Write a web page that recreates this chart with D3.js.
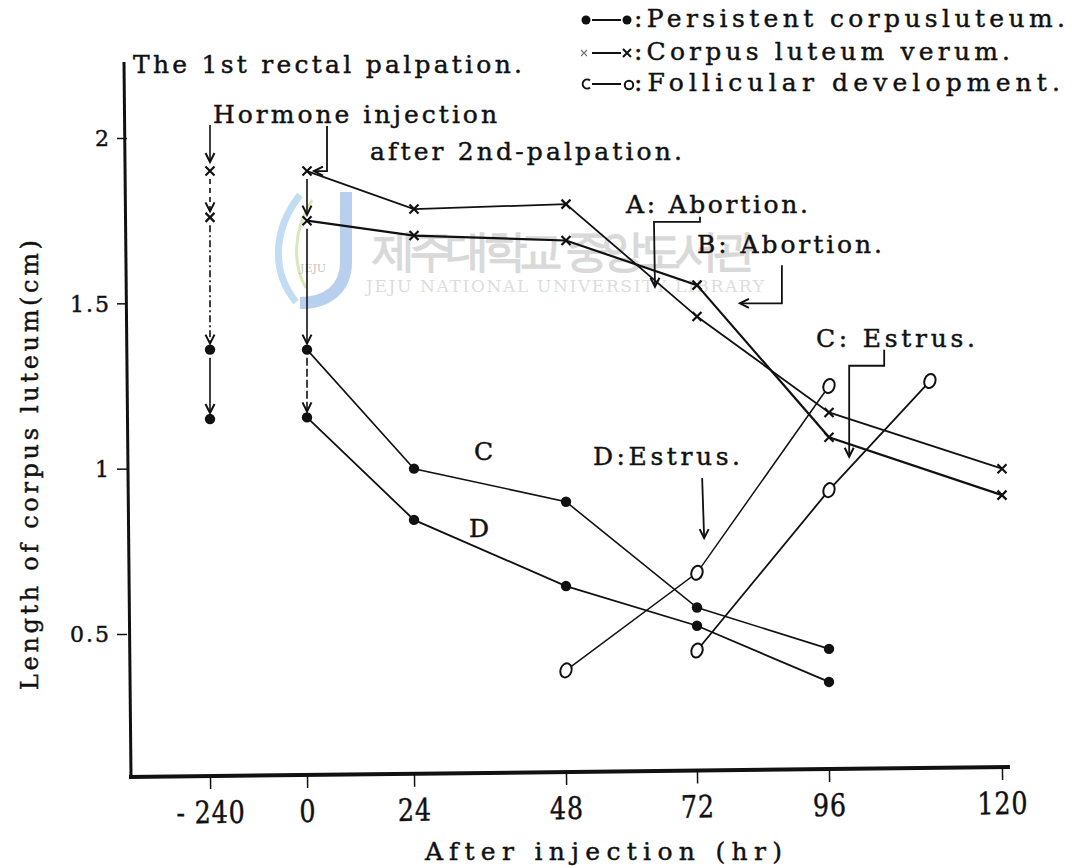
<!DOCTYPE html>
<html>
<head>
<meta charset="utf-8">
<title>Length of corpus luteum after injection</title>
<script src="https://cdn.jsdelivr.net/npm/d3@7"></script>
<style>
  body { margin: 0; background: #fff; }
  svg text { font-family: "DejaVu Serif", serif; fill: #111; stroke: #111; stroke-width: 0.45px; }
  svg .watermark text { stroke: none; }
</style>
</head>
<body>
<svg id="chart" width="1072" height="868"></svg>
<script>
// x ticks (hours after injection) and their printed labels
const hourTicks = [-240, 0, 24, 48, 72, 96, 120];
const hourLabels = ["- 240", "0", "24", "48", "72", "96", "120"];
const lengthTicks = [0.5, 1, 1.5, 2];

// corpus luteum verum (x), cases A and B  [hour, cm]
const verumA = [[0, 1.90], [24, 1.785], [48, 1.80], [72, 1.46], [96, 1.17], [120, 1.00]];
const verumB = [[0, 1.75], [24, 1.705], [48, 1.69], [72, 1.555], [96, 1.095], [120, 0.92]];
// persistent corpus luteum (dots), cases C and D
const persistC = [[0, 1.36], [24, 1.00], [48, 0.90], [72, 0.58], [96, 0.455]];
const persistD = [[0, 1.155], [24, 0.845], [48, 0.645], [72, 0.525], [96, 0.355]];
// follicular development (o)
const follicleD = [[48, 0.39], [72, 0.685], [96, 1.25]];
const follicleC = [[72, 0.45], [96, 0.935], [110, 1.265]];
// 1st rectal palpation, -240 hr
const firstVerum = [1.90, 1.76];
const firstPersist = [1.36, 1.15];

const svg = d3.select("#chart");
svg.append("rect").attr("width", 1072).attr("height", 868).attr("fill", "#fff");

const x = d3.scaleLinear().domain(hourTicks).range([210, 307, 414, 566, 697, 829, 1002]);
const y = d3.scaleLinear().domain([0.5, 2]).range([634, 138]);

// library watermark of the scan
const wm = svg.append("g").attr("class", "watermark").attr("opacity", 0.7);
wm.append("path").attr("d", "M300,195 C274,228 270,270 296,302")
  .attr("fill", "none").attr("stroke", "#a9cfee").attr("stroke-width", 7);
wm.append("path").attr("d", "M312,200 C292,232 293,266 306,288")
  .attr("fill", "none").attr("stroke", "#c9df9c").attr("stroke-width", 3);
wm.append("path").attr("d", "M346,192 L346,262 C346,290 326,303 300,303")
  .attr("fill", "none").attr("stroke", "#9bbde6").attr("stroke-width", 12);
wm.append("text").attr("x", 300).attr("y", 272).attr("font-family", "Noto Sans")
  .attr("font-size", 11).style("fill", "#aaa").text("JEJU");
wm.append("text").attr("x", 372).attr("y", 266).attr("font-family", "Noto Sans CJK KR")
  .attr("font-size", 44).attr("font-weight", "bold").attr("textLength", 384)
  .style("fill", "#c9c9c9").text("제주대학교 중앙도서관");
wm.append("text").attr("x", 366).attr("y", 292).attr("font-family", "Noto Sans")
  .attr("font-size", 17).attr("textLength", 398).style("fill", "#d0d0d0")
  .text("JEJU NATIONAL UNIVERSITY LIBRARY");

// y axis
svg.append("line").attr("x1", 124).attr("y1", 62).attr("x2", 131).attr("y2", 778)
  .attr("stroke", "#111").attr("stroke-width", 3);
const yAxis = svg.append("g").attr("transform", "translate(127,0)")
  .call(d3.axisLeft(y).tickValues(lengthTicks).tickSize(10).tickPadding(6).tickFormat(d3.format("")));
yAxis.select(".domain").remove();
yAxis.selectAll("line").attr("stroke", "#111").attr("stroke-width", 1.5);
yAxis.selectAll("text").attr("font-family", "DejaVu Serif").attr("font-size", 22)
  .attr("letter-spacing", 2).attr("dy", "0.35em");

// x axis, drawn along the slightly rising baseline of the original
const xAxis = svg.append("g").attr("transform", "rotate(-0.65 129 777) translate(0,777)");
xAxis.append("line").attr("x1", 129).attr("x2", 1010).attr("stroke", "#111").attr("stroke-width", 4);
xAxis.call(d3.axisBottom(x).tickValues(hourTicks).tickSize(13).tickPadding(12)
  .tickFormat((d, i) => hourLabels[i]));
xAxis.select(".domain").remove();
xAxis.selectAll(".tick line").attr("stroke", "#111").attr("stroke-width", 1.5);
xAxis.selectAll(".tick text").attr("font-family", "Liberation Serif").attr("font-size", 31)
  .attr("transform", "scale(0.82,1)").attr("letter-spacing", 1);

svg.append("text").attr("x", 425).attr("y", 860).attr("font-size", 25)
  .attr("textLength", 357).text("After injection (hr)");
svg.append("text").attr("transform", "translate(38,690) rotate(-90)").attr("font-size", 24)
  .attr("textLength", 450).text("Length of corpus luteum(cm)");

// helpers
function arrowHead(g, tx, ty, dir) {
  const s = 9, w = 4.5;
  const d = dir === "left"
    ? `M${tx + s},${ty - w} L${tx},${ty} L${tx + s},${ty + w}`
    : `M${tx - w},${ty - s} L${tx},${ty} L${tx + w},${ty - s}`;
  g.append("path").attr("d", d).attr("fill", "none").attr("stroke", "#111").attr("stroke-width", 2);
}
function drawMark(g, kind, px, py) {
  if (kind === "dot") {
    g.append("circle").attr("cx", px).attr("cy", py).attr("r", 5.2).attr("fill", "#111");
  } else if (kind === "cross") {
    g.append("path").attr("d", `M${px - 4.5},${py - 4.5} L${px + 4.5},${py + 4.5} M${px - 4.5},${py + 4.5} L${px + 4.5},${py - 4.5}`)
      .attr("stroke", "#111").attr("stroke-width", 2.2);
  } else {
    g.append("ellipse").attr("cx", px).attr("cy", py).attr("rx", 5.5).attr("ry", 7.2)
      .attr("transform", `rotate(20 ${px} ${py})`)
      .attr("fill", "#fff").attr("stroke", "#111").attr("stroke-width", 2);
  }
}

// palpation columns: vertical arrows between successive measurements
const plot = svg.append("g");
const columns = [
  { hour: -240, values: [...firstVerum, ...firstPersist], dashes: ["5,4", "7,3,2,3", null] },
  { hour: 0, values: [verumA[0][1], verumB[0][1], persistC[0][1], persistD[0][1]], dashes: [null, null, "8,3"] }
];
columns.forEach(c => {
  const px = x(c.hour);
  for (let i = 0; i < c.values.length - 1; i++) {
    const y0 = y(c.values[i]) + 8, y1 = y(c.values[i + 1]) - 6;
    plot.append("line").attr("x1", px).attr("x2", px).attr("y1", y0).attr("y2", y1)
      .attr("stroke", "#111").attr("stroke-width", 1.6)
      .attr("stroke-dasharray", c.dashes[i]);
    arrowHead(plot, px, y1, "down");
  }
});
// arrow of the 1st palpation
plot.append("line").attr("x1", x(-240)).attr("x2", x(-240)).attr("y1", 125).attr("y2", y(firstVerum[0]) - 9)
  .attr("stroke", "#111").attr("stroke-width", 1.6);
arrowHead(plot, x(-240), y(firstVerum[0]) - 9, "down");

// series
const line = d3.line().x(d => x(d[0])).y(d => y(d[1]));
const series = [
  { data: verumA, mark: "cross", w: 1.8 },
  { data: verumB, mark: "cross", w: 2.2 },
  { data: persistC, mark: "dot", w: 1.6 },
  { data: persistD, mark: "dot", w: 1.8 },
  { data: follicleD, mark: "ring", w: 1.5 },
  { data: follicleC, mark: "ring", w: 1.8 }
];
series.forEach(s => {
  plot.append("path").attr("d", line(s.data)).attr("fill", "none")
    .attr("stroke", "#111").attr("stroke-width", s.w);
});
series.forEach(s => s.data.forEach(d => drawMark(plot, s.mark, x(d[0]), y(d[1]))));
firstVerum.forEach(v => drawMark(plot, "cross", x(-240), y(v)));
firstPersist.forEach(v => drawMark(plot, "dot", x(-240), y(v)));

// annotation arrows, anchored at data units, bracket drawn in pixels
const pointers = [
  { at: [0, verumA[0][1]], dir: "left", path: [[0, 0], [13, 0], [13, -45]] },
  { at: [64.3, 1.55], dir: "down", path: [[0, 0], [-1, -65], [45, -65], [45, -70]] },
  { at: [79.8, 1.50], dir: "left", path: [[0, 0], [42, 0], [42, -38]] },
  { at: [98.8, 1.036], dir: "down", path: [[0, 0], [0, -91], [35, -91], [35, -107]] },
  { at: [73.3, 0.79], dir: "down", path: [[0, 0], [-2, -60]] }
];
pointers.forEach(p => {
  const tx = x(p.at[0]) + (p.dir === "left" && p.at[0] === 0 ? 7 : 0), ty = y(p.at[1]);
  plot.append("path").attr("d", d3.line()(p.path.map(o => [tx + o[0], ty + o[1]])))
    .attr("fill", "none").attr("stroke", "#111").attr("stroke-width", 1.8);
  arrowHead(plot, tx, ty, p.dir);
});

// text notes
const notes = [
  { t: "The 1st rectal palpation.", x: 133, y: 73, w: 389 },
  { t: "Hormone injection", x: 213, y: 123, w: 284 },
  { t: "after 2nd-palpation.", x: 370, y: 160, w: 312 },
  { t: "A: Abortion.", x: 626, y: 213, w: 182 },
  { t: "B: Abortion.", x: 697, y: 253, w: 185 },
  { t: "C: Estrus.", x: 816, y: 347, w: 159 },
  { t: "D:Estrus.", x: 593, y: 465, w: 147 },
  { t: "C", x: 474, y: 460 },
  { t: "D", x: 469, y: 537 }
];
notes.forEach(n => {
  const t = svg.append("text").attr("x", n.x).attr("y", n.y).attr("font-size", 25).text(n.t);
  if (n.w) t.attr("textLength", n.w);
});

// legend
const legend = svg.append("g");
const legendRows = [
  { kind: "dot", label: ":Persistent corpusluteum.", y: 27, w: 431 },
  { kind: "cross", label: ":Corpus luteum verum.", y: 60, w: 376 },
  { kind: "ring", label: ":Follicular development.", y: 91, w: 426 }
];
legendRows.forEach(r => {
  const cy = r.y - 7;
  legend.append("line").attr("x1", 592).attr("x2", 621).attr("y1", cy).attr("y2", cy)
    .attr("stroke", "#111").attr("stroke-width", 2);
  if (r.kind === "dot") {
    legend.append("circle").attr("cx", 586).attr("cy", cy).attr("r", 4.5).attr("fill", "#111");
    legend.append("circle").attr("cx", 627).attr("cy", cy).attr("r", 4.5).attr("fill", "#111");
  } else if (r.kind === "cross") {
    legend.append("path").attr("d", `M581,${cy - 3} L587,${cy + 3} M581,${cy + 3} L587,${cy - 3}`)
      .attr("stroke", "#777").attr("stroke-width", 1.2);
    legend.append("path").attr("d", `M623,${cy - 4} L631,${cy + 4} M623,${cy + 4} L631,${cy - 4}`)
      .attr("stroke", "#111").attr("stroke-width", 2);
  } else {
    legend.append("path").attr("d", `M590,${cy - 3.5} A4.5,4.5 0 1 0 590,${cy + 3.5}`)
      .attr("fill", "none").attr("stroke", "#111").attr("stroke-width", 2);
    legend.append("circle").attr("cx", 629).attr("cy", cy + 1).attr("r", 4.2)
      .attr("fill", "#fff").attr("stroke", "#111").attr("stroke-width", 2);
  }
  legend.append("text").attr("x", 634).attr("y", r.y).attr("font-size", 25)
    .attr("textLength", r.w).text(r.label);
});
</script>
</body>
</html>
